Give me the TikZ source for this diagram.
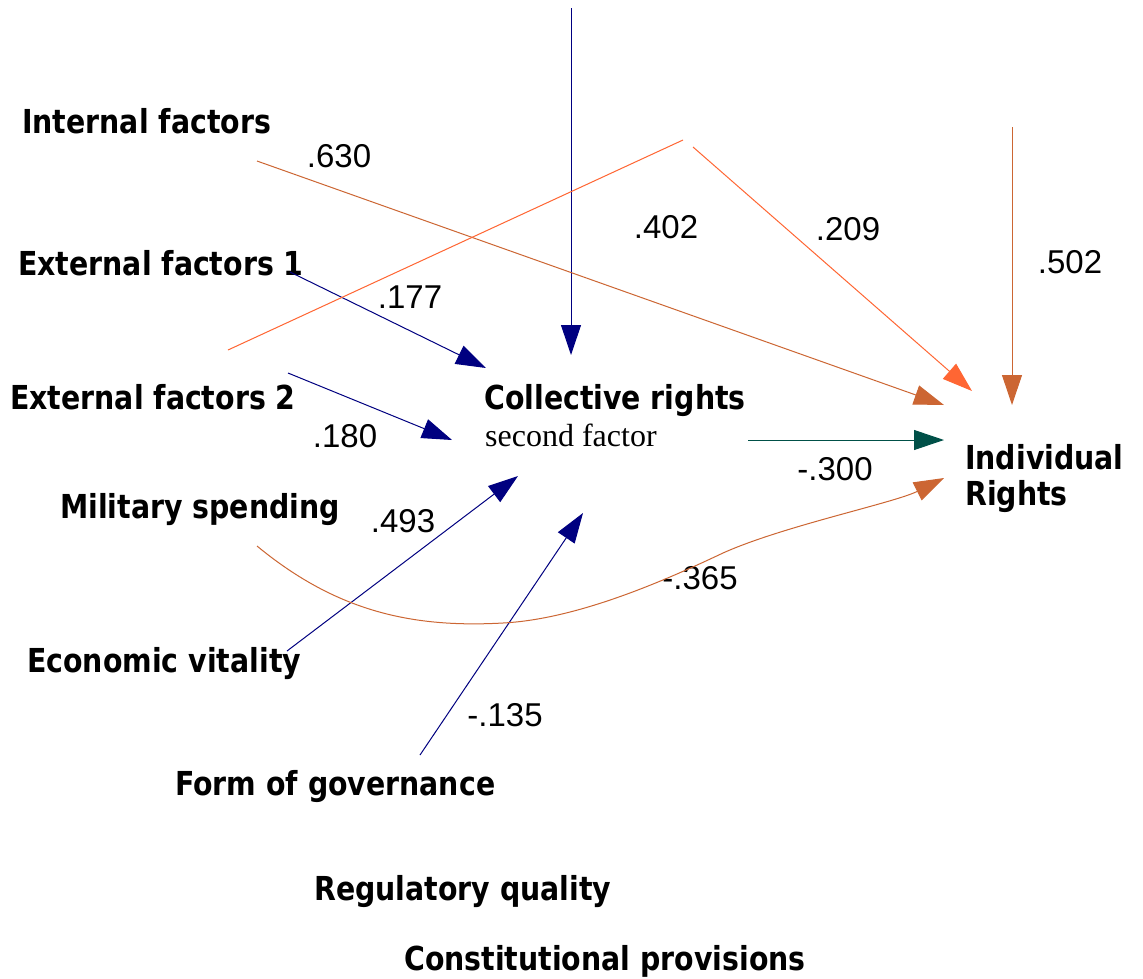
\documentclass[tikz,border=0pt]{standalone}
\usepackage{fontspec}
\setmainfont{Liberation Sans}
\newfontfamily\labfont{DejaVu Sans}[FakeStretch=0.86]
\newfontfamily\subfont{Liberation Serif}
\usetikzlibrary{arrows.meta}

\definecolor{pathnavy}{RGB}{0,0,128}
\definecolor{pathorange}{RGB}{255,102,51}
\definecolor{pathrust}{RGB}{204,102,51}
\definecolor{pathteal}{RGB}{0,80,72}

\begin{document}
\begin{tikzpicture}[x=1pt,y=-1pt]

        \useasboundingbox[fill=white] (0,0) rectangle (1143,978);

        % variable names
        \begin{scope}[every node/.style={anchor=base west, inner sep=0pt,
            font=\labfont\bfseries\fontsize{33}{36}\selectfont}]
          \node (intf)  at (22,133)  {Internal factors};
          \node (ext1)  at (18,275)  {External factors 1};
          \node (ext2)  at (10,409)  {External factors 2};
          \node (mil)   at (60,518)  {Military spending};
          \node (econ)  at (27,672)  {Economic vitality};
          \node (gov)   at (175,795) {Form of governance};
          \node (reg)   at (314,900) {Regulatory quality};
          \node (const) at (404,970) {Constitutional provisions};
          \node (coll)  at (484,409) {Collective rights};
          \node (indiv) at (965,469) {Individual};
          \node (indiv2) at (965,505) {Rights};
          \node[font=\subfont\fontsize{32}{36}\selectfont] (collsub) at (485,446) {second factor};
        \end{scope}

        % path coefficients
        \begin{scope}[every node/.style={anchor=base, inner sep=0pt,
            font=\fontsize{33}{36}\selectfont}]
          \node (c630)  at (339,167)  {.630};
          \node (c402)  at (666,238)  {.402};
          \node (c209)  at (848,240)  {.209};
          \node (c502)  at (1070,273) {.502};
          \node (c177)  at (410,308)  {.177};
          \node (c180)  at (345,447)  {.180};
          \node (c300)  at (835,480)  {-.300};
          \node (c493)  at (403,532)  {.493};
          \node (c365)  at (700,589)  {-.365};
          \node (c135)  at (505,726)  {-.135};
        \end{scope}

        % line ends
        \coordinate (top)   at (571,8);
        \coordinate (collN) at (571,355);
        \coordinate (e1)    at (290,272);
        \coordinate (collW1) at (486,368);
        \coordinate (e2)    at (288,373);
        \coordinate (collW2) at (452,440);
        \coordinate (ev)    at (287,651);
        \coordinate (collS1) at (518,476);
        \coordinate (fg)    at (420,755);
        \coordinate (collS2) at (583,513);
        \coordinate (collE) at (748,440);
        \coordinate (indW)  at (944,440);
        \coordinate (inf)   at (257,161);
        \coordinate (indNW1) at (944,405);
        \coordinate (rq1)   at (228,350);
        \coordinate (rq2)   at (683,140);
        \coordinate (rq3)   at (693,147);
        \coordinate (indNW2) at (972,391);
        \coordinate (up)    at (1012,127);
        \coordinate (indN)  at (1012,405);
        \coordinate (ms)    at (257,546);
        \coordinate (low)   at (503,623);
        \coordinate (rise)  at (723,553);
        \coordinate (indSW) at (944,478);

        \begin{scope}[every edge/.style={draw, line width=1pt,
            -{Triangle[length=30pt,width=20pt]}}]
          \path (top) edge[pathnavy] (collN);
          \path (e1)  edge[pathnavy] (collW1);
          \path (e2)  edge[pathnavy] (collW2);
          \path (ev)  edge[pathnavy] (collS1);
          \path (fg)  edge[pathnavy] (collS2);
          \path (collE) edge[pathteal] (indW);
          \path (inf) edge[pathrust] (indNW1);
          \path (rq1) edge[pathorange, -] (rq2);
          \path (rq3) edge[pathorange] (indNW2);
          \path (up)  edge[pathrust] (indN);
        \end{scope}

        \draw[pathrust, line width=1pt, -{Triangle[length=30pt,width=20pt]}]
          (ms) .. controls (337,612) and (413,628) .. (low)
               .. controls (580,619) and (670,578) .. (rise)
               .. controls (783,526) and (894,503) .. (indSW);

      \end{tikzpicture}
\end{document}
